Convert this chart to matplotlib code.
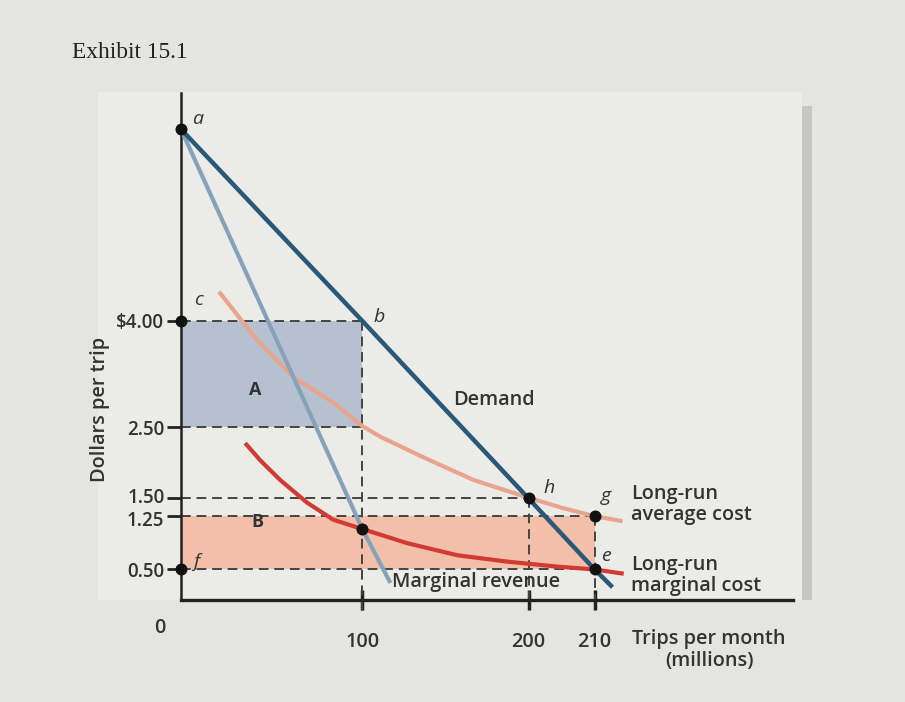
import numpy as np
import matplotlib.pyplot as plt
from matplotlib.patches import Rectangle
from matplotlib.transforms import blended_transform_factory, ScaledTranslation

# values read from the exhibit (quantity in millions of trips, price in $)
demand_q = [0, 100, 200, 210, 212.7]
demand_p = [6.70, 4.00, 1.50, 0.50, 0.25]

mr_q = [0, 100, 116.9]
mr_p = [6.70, 1.07, 0.31]

lrac_q = [21.0, 42.0, 61.9, 84.0, 100, 110.8, 136.7, 166.9, 200, 205, 210, 214.2]
lrac_p = [4.41, 3.73, 3.21, 2.85, 2.52, 2.37, 2.08, 1.76, 1.51, 1.37, 1.25, 1.18]

lrmc_q = [35.4, 43.6, 54.7, 69.6, 84.0, 100, 127.1, 157.2, 187.3, 204.4, 210, 214.4]
lrmc_p = [2.28, 2.04, 1.76, 1.44, 1.20, 1.07, 0.87, 0.70, 0.61, 0.54, 0.50, 0.44]

y_ticks = [4.00, 2.50, 1.50, 1.25, 0.50]
y_labels = ['$4.00', '2.50', '1.50', '1.25', '0.50']
x_ticks = [100, 200, 210]

# the textbook axis is not drawn to scale: piecewise mapping of trips to position
q_knots = [0, 100, 200, 210, 240]
pos_knots = [0, 181, 347, 413, 611]


def fwd(q):
    return np.interp(q, q_knots, pos_knots)


def inv(p):
    return np.interp(p, pos_knots, q_knots)


plt.rcParams['font.family'] = ['Open Sans', 'DejaVu Sans']
TXT = '#333333'
FS = 14.3

fig = plt.figure(figsize=(9.05, 7.02), dpi=100)
fig.patch.set_facecolor('#e4e4e1')
# lighter page panel and its shadow
fig.add_artist(Rectangle((98 / 905, 102 / 702), 704 / 905, 508 / 702,
                         transform=fig.transFigure, facecolor='#ebebe8',
                         edgecolor='none', zorder=0))
fig.add_artist(Rectangle((802 / 905, 102 / 702), 10 / 905, 494 / 702,
                         transform=fig.transFigure, facecolor='#c6c6c4',
                         edgecolor='none', zorder=0))

ax = fig.add_axes([181 / 905, 102 / 702, 612 / 905, 507 / 702])
ax.set_facecolor('none')
ax.set_xscale('function', functions=(fwd, inv))
ax.set_xlim(0, 240)
ax.set_ylim(0.07, 7.21)

for s in ['top', 'right']:
    ax.spines[s].set_visible(False)
ax.spines['left'].set_linewidth(1.8)
ax.spines['bottom'].set_linewidth(2.4)
ax.spines['left'].set_color('#222222')
ax.spines['bottom'].set_color('#222222')

# shaded areas A and B
ax.add_patch(Rectangle((0, 2.5), 100, 1.5, facecolor='#b5c1d0', edgecolor='none', zorder=1))
ax.add_patch(Rectangle((0, 0.5), 210, 0.75, facecolor='#f2bfa8', edgecolor='none', zorder=1))

dash = dict(color='#444444', lw=1.4, ls=(0, (5, 3)), zorder=2)
ax.plot([0, 100], [4.0, 4.0], **dash)
ax.plot([0, 100], [2.5, 2.5], **dash)
ax.plot([0, 200], [1.5, 1.5], **dash)
ax.plot([0, 210], [1.25, 1.25], **dash)
ax.plot([0, 210], [0.5, 0.5], **dash)
ax.plot([100, 100], [4.0, -0.1], clip_on=False, **dash)
ax.plot([200, 200], [1.5, 0.07], **dash)
ax.plot([210, 210], [1.25, 0.07], **dash)

ax.plot(lrac_q, lrac_p, color='#e9a48e', lw=3, solid_capstyle='butt',
        solid_joinstyle='round', zorder=3)
ax.plot(lrmc_q, lrmc_p, color='#d23a36', lw=3, solid_capstyle='butt',
        solid_joinstyle='round', zorder=3)
ax.plot(mr_q, mr_p, color='#86a2bb', lw=3, solid_capstyle='butt', zorder=4)
ax.plot(demand_q, demand_p, color='#2a5977', lw=3.2, solid_capstyle='butt', zorder=5)

dots_q = [0, 0, 0, 100, 200, 210, 210]
dots_p = [6.70, 4.00, 0.50, 1.07, 1.50, 1.25, 0.50]
ax.scatter(dots_q, dots_p, s=58, color='#111111', zorder=6, clip_on=False)

ax.set_yticks(y_ticks)
ax.set_yticklabels(y_labels)
ax.set_xticks(x_ticks)
ax.set_xticklabels([str(t) for t in x_ticks])
ax.tick_params(axis='y', length=10, width=2, color='#222222', labelsize=13.5,
               labelcolor=TXT, pad=2)
ax.tick_params(axis='x', length=14, width=2.5, color='#222222', labelsize=FS,
               labelcolor=TXT, pad=16, direction='inout')
ax.minorticks_off()
for lab in ax.get_xticklabels() + ax.get_yticklabels():
    lab.set_fontweight('semibold')
# the 1.50 and 1.25 labels sit very close: nudge them apart a little
ylabs = ax.get_yticklabels()
ylabs[2].set_transform(ylabs[2].get_transform() + ScaledTranslation(0, 2 / 72, fig.dpi_scale_trans))
ylabs[3].set_transform(ylabs[3].get_transform() + ScaledTranslation(0, -2 / 72, fig.dpi_scale_trans))
for lab in ylabs:
    lab.set_linespacing(0.9)

ax.text(-0.034, -0.055, '0', transform=ax.transAxes, fontsize=FS, color=TXT,
        ha='center', va='center', fontweight='semibold')
ylab_tr = blended_transform_factory(ax.transAxes, ax.transData)
ax.text(-0.132, 2.75, 'Dollars per trip', transform=ylab_tr, rotation=90,
        fontsize=FS, color=TXT, ha='center', va='center', fontweight='semibold')
ax.text(0.863, -0.058, 'Trips per month\n(millions)', transform=ax.transAxes,
        fontsize=FS, color=TXT, ha='center', va='top', linespacing=1.12,
        fontweight='semibold')

lab = dict(fontsize=14, color=TXT, style='italic')
ax.text(6, 6.78, 'a', **lab)
ax.text(7, 4.22, 'c', **lab)
ax.text(7, 0.53, 'f', **lab)
ax.text(107, 3.98, 'b', **lab)
ax.text(202.3, 1.57, 'h', **lab)
ax.text(211, 1.47, 'g', **lab)
ax.text(211, 0.62, 'e', **lab)

ax.text(41, 3.03, 'A', fontsize=13, color=TXT, fontweight='bold', ha='center', va='center')
ax.text(42, 1.17, 'B', fontsize=13, color=TXT, fontweight='bold', ha='center', va='center')
ax.text(179, 2.88, 'Demand', fontsize=FS, color=TXT, ha='center', va='center',
        fontweight='semibold')
ax.text(117.8, 0.32, 'Marginal revenue', fontsize=FS, color=TXT, ha='left', va='center',
        fontweight='semibold')
ax.text(215.5, 1.42, 'Long-run\naverage cost', fontsize=FS, color=TXT, ha='left',
        va='center', linespacing=1.05, fontweight='semibold')
ax.text(215.5, 0.42, 'Long-run\nmarginal cost', fontsize=FS, color=TXT, ha='left',
        va='center', linespacing=1.05, fontweight='semibold')

fig.text(72 / 905, 1 - 52 / 702, 'Exhibit 15.1', family='Liberation Serif',
         fontsize=16.8, color='#222222', va='center', ha='left')

fig.savefig('out.png', dpi=100, facecolor=fig.get_facecolor())
